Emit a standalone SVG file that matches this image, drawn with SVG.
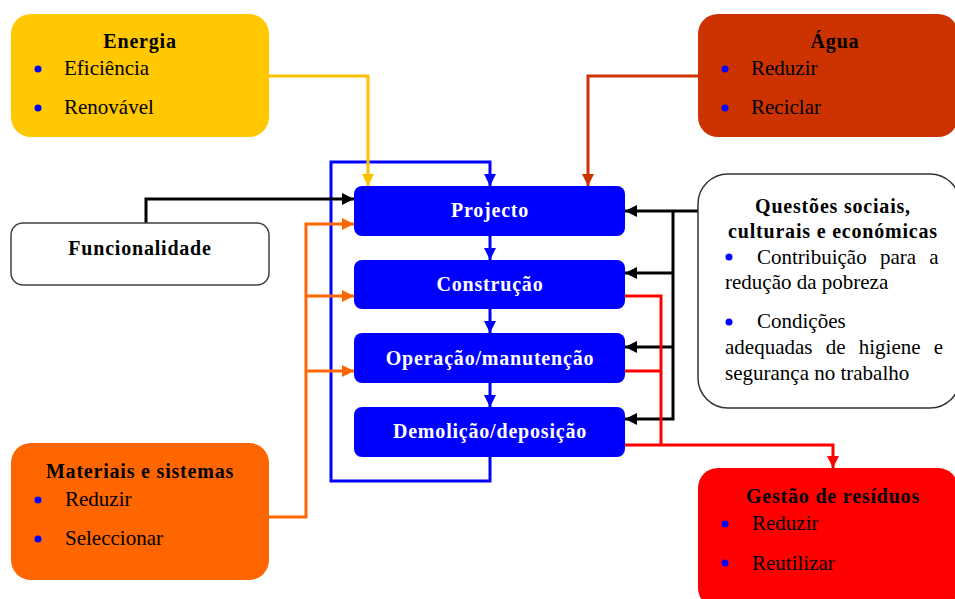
<svg xmlns="http://www.w3.org/2000/svg" width="955" height="599" viewBox="0 0 955 599" font-family="Liberation Serif, Times New Roman, serif">
<defs>
<style>
text{font-family:"Liberation Serif","Times New Roman",serif}
.t{fill:#000}
.b{font-weight:bold;font-size:20px;letter-spacing:0.8px}
.r{font-size:21px}
.w{font-weight:bold;font-size:20px;letter-spacing:0.8px;fill:#fff}
.stage{fill:#0000FF}
.dot{fill:#0000FF}
.ln{fill:none;stroke-width:3;stroke-linejoin:miter}
</style>
<marker id="aBlue" markerUnits="userSpaceOnUse" markerWidth="12" markerHeight="12" refX="12" refY="6" orient="auto"><path d="M0,0 L12,6 L0,12 z" fill="#0000FF"/></marker>
<marker id="aBlack" markerUnits="userSpaceOnUse" markerWidth="12" markerHeight="12" refX="12" refY="6" orient="auto"><path d="M0,0 L12,6 L0,12 z" fill="#000"/></marker>
<marker id="aYellow" markerUnits="userSpaceOnUse" markerWidth="12" markerHeight="12" refX="12" refY="6" orient="auto"><path d="M0,0 L12,6 L0,12 z" fill="#FFC000"/></marker>
<marker id="aBrown" markerUnits="userSpaceOnUse" markerWidth="12" markerHeight="12" refX="12" refY="6" orient="auto"><path d="M0,0 L12,6 L0,12 z" fill="#CC3300"/></marker>
<marker id="aOrange" markerUnits="userSpaceOnUse" markerWidth="12" markerHeight="12" refX="12" refY="6" orient="auto"><path d="M0,0 L12,6 L0,12 z" fill="#FF6600"/></marker>
<marker id="aRed" markerUnits="userSpaceOnUse" markerWidth="12" markerHeight="12" refX="12" refY="6" orient="auto"><path d="M0,0 L12,6 L0,12 z" fill="#FF0000"/></marker>
</defs>
<rect width="955" height="599" fill="#fff"/>

<g id="connectors">
<path class="ln" stroke="#0000FF" d="M490,457 V481 H331 V162 H490 V186" marker-end="url(#aBlue)"/>
<path class="ln" stroke="#0000FF" d="M490,236 V260" marker-end="url(#aBlue)"/>
<path class="ln" stroke="#0000FF" d="M490,309 V333" marker-end="url(#aBlue)"/>
<path class="ln" stroke="#0000FF" d="M490,383 V407" marker-end="url(#aBlue)"/>
<path class="ln" stroke="#FFC000" d="M269,76 H368 V186" marker-end="url(#aYellow)"/>
<path class="ln" stroke="#CC3300" d="M698,76 H588 V186" marker-end="url(#aBrown)"/>
<path class="ln" stroke="#000" d="M146,223 V199 H354" marker-end="url(#aBlack)"/>
<path class="ln" stroke="#FF6600" d="M269,517 H306 V224 H354" marker-end="url(#aOrange)"/>
<path class="ln" stroke="#FF6600" d="M306,296 H354" marker-end="url(#aOrange)"/>
<path class="ln" stroke="#FF6600" d="M306,371 H354" marker-end="url(#aOrange)"/>
<path class="ln" stroke="#000" d="M698,211 H625" marker-end="url(#aBlack)"/>
<path class="ln" stroke="#000" d="M673,211 V419 H625" marker-end="url(#aBlack)"/>
<path class="ln" stroke="#000" d="M673,273 H625" marker-end="url(#aBlack)"/>
<path class="ln" stroke="#000" d="M673,347 H625" marker-end="url(#aBlack)"/>
<path class="ln" stroke="#FF0000" d="M625,296 H661 V445"/>
<path class="ln" stroke="#FF0000" d="M625,371 H661"/>
<path class="ln" stroke="#FF0000" d="M625,445 H833 V468" marker-end="url(#aRed)"/>
</g>

<g id="energia">
<rect x="11" y="14" width="258" height="123" rx="20" fill="#FFC800"/>
<text class="t b" x="140" y="48" text-anchor="middle">Energia</text>
<circle class="dot" cx="38" cy="69" r="3.5"/>
<text class="t r" x="64" y="75">Eficiência</text>
<circle class="dot" cx="38" cy="108" r="3.5"/>
<text class="t r" x="64" y="114">Renovável</text>
</g>

<g id="agua">
<rect x="698" y="14" width="260" height="123" rx="20" fill="#CC3300"/>
<text class="t b" x="835" y="48" text-anchor="middle">Água</text>
<circle class="dot" cx="725" cy="69" r="3.5"/>
<text class="t r" x="751" y="75">Reduzir</text>
<circle class="dot" cx="725" cy="108" r="3.5"/>
<text class="t r" x="751" y="114">Reciclar</text>
</g>

<g id="funcionalidade">
<rect x="11" y="223" width="258" height="62" rx="12" fill="#fff" stroke="#404040" stroke-width="1.5"/>
<text class="t b" x="140" y="255" text-anchor="middle">Funcionalidade</text>
</g>

<g id="questoes">
<rect x="698" y="174" width="262" height="234" rx="30" fill="#fff" stroke="#333" stroke-width="1.5"/>
<text class="t b" x="833" y="213" text-anchor="middle">Questões sociais,</text>
<text class="t b" x="833" y="238" text-anchor="middle">culturais e económicas</text>
<circle class="dot" cx="729" cy="257" r="3.5"/>
<text class="t r" x="757" y="264" word-spacing="8">Contribuição para a</text>
<text class="t r" x="725" y="289">redução da pobreza</text>
<circle class="dot" cx="729" cy="322" r="3.5"/>
<text class="t r" x="757" y="328">Condições</text>
<text class="t r" x="725" y="354" word-spacing="8">adequadas de higiene e</text>
<text class="t r" x="725" y="380">segurança no trabalho</text>
</g>

<g id="materiais">
<rect x="11" y="443" width="258" height="137" rx="20" fill="#FF6600"/>
<text class="t b" x="140" y="478" text-anchor="middle">Materiais e sistemas</text>
<circle class="dot" cx="38" cy="500" r="3.5"/>
<text class="t r" x="65" y="506">Reduzir</text>
<circle class="dot" cx="38" cy="539" r="3.5"/>
<text class="t r" x="65" y="545">Seleccionar</text>
</g>

<g id="residuos">
<rect x="698" y="468" width="260" height="140" rx="20" fill="#FF0000"/>
<text class="t b" x="833" y="503" text-anchor="middle">Gestão de resíduos</text>
<circle class="dot" cx="725" cy="524" r="3.5"/>
<text class="t r" x="752" y="530">Reduzir</text>
<circle class="dot" cx="725" cy="563" r="3.5"/>
<text class="t r" x="752" y="570">Reutilizar</text>
</g>

<g id="projecto">
<rect class="stage" x="354" y="186" width="271" height="50" rx="8"/>
<text class="w" x="490" y="217" text-anchor="middle">Projecto</text>
</g>
<g id="construcao">
<rect class="stage" x="354" y="260" width="271" height="49" rx="8"/>
<text class="w" x="490" y="291" text-anchor="middle">Construção</text>
</g>
<g id="operacao">
<rect class="stage" x="354" y="333" width="271" height="50" rx="8"/>
<text class="w" x="490" y="365" text-anchor="middle">Operação/manutenção</text>
</g>
<g id="demolicao">
<rect class="stage" x="354" y="407" width="271" height="50" rx="8"/>
<text class="w" x="490" y="438" text-anchor="middle">Demolição/deposição</text>
</g>
</svg>
